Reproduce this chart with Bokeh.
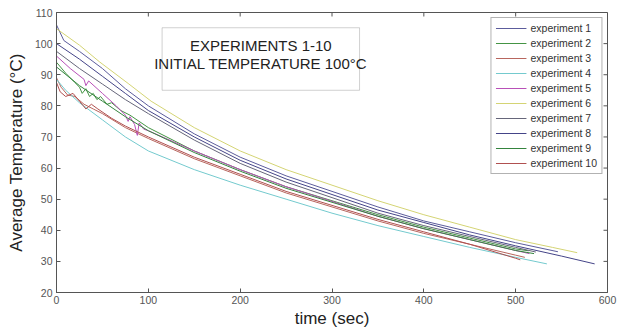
import math
from bokeh.plotting import figure
from bokeh.models import BoxAnnotation, Label, FixedTicker, Range1d, Legend
from bokeh.embed import file_html
from bokeh.resources import INLINE

# ---- data ----
t1 = [0, 8, 25, 50, 75, 100, 150, 200, 250, 300, 350, 400, 450, 500, 546]
T1 = [106, 101, 97.5, 92, 85.5, 80, 71, 63.5, 57.5, 52.5, 47.5, 43, 39.5, 36, 33.1]

t2 = [0, 10, 20, 25, 28, 32, 36, 40, 44, 48, 55, 60, 70, 80, 100, 150, 200, 250, 300, 350, 400, 450, 500, 514]
T2 = [94, 90.5, 87.5, 86, 84, 85.5, 83, 84, 82, 83, 80.5, 81, 78.5, 77, 73, 65.5, 59.5, 54, 49.5, 45, 41, 37.5, 34, 33.4]

t3 = [0, 5, 12, 20, 30, 40, 50, 75, 100, 150, 200, 250, 300, 350, 400, 450, 500, 510]
T3 = [89, 86, 83.5, 83, 80.5, 79, 77.5, 73, 69.5, 63, 57.5, 52, 47.5, 43, 39, 35.5, 32, 31.3]

t4 = [0, 10, 25, 50, 75, 100, 150, 200, 250, 300, 350, 400, 450, 500, 534]
T4 = [88.5, 85, 81, 75.5, 70, 65.5, 59.5, 54.5, 50, 45.5, 41.5, 38, 34.5, 31.3, 29.2]

t5 = [0, 15, 30, 32, 35, 50, 65, 75, 78, 80, 85, 88, 90, 95, 100, 150, 200, 250, 300, 350, 400, 450, 500, 515]
T5 = [96, 92, 88.5, 86.5, 88, 84, 80, 77, 75, 76.5, 74, 70.5, 74.5, 72.5, 72, 65.5, 59.5, 54, 49.3, 44.5, 40.5, 37, 33.5, 32.5]

t6 = [0, 25, 47, 78, 103, 150, 200, 250, 300, 350, 400, 450, 500, 540, 567]
T6 = [104.8, 99.5, 94.1, 87.2, 81.5, 73, 65.5, 59.5, 54.5, 49.5, 45, 41, 37, 34.5, 32.8]

t7 = [0, 25, 50, 75, 100, 150, 200, 250, 300, 350, 400, 450, 500, 522]
T7 = [97.5, 92, 87, 82, 77.5, 69, 61.5, 55.5, 50.5, 45.5, 41.5, 38, 34.5, 33]

t8 = [0, 25, 50, 75, 100, 150, 200, 250, 300, 350, 400, 450, 500, 550, 586]
T8 = [100, 95, 89.5, 84, 78.5, 70, 62.5, 56.5, 51.5, 46.5, 42.5, 38.5, 35, 31.7, 29.2]

t9 = [0, 25, 50, 75, 100, 150, 200, 250, 300, 350, 400, 450, 500, 520]
T9 = [92.5, 86.5, 81.5, 76.5, 72, 65, 59, 53.5, 49, 44.5, 40.5, 37, 33.5, 32.5]

t10 = [0, 4, 10, 18, 25, 32, 38, 45, 60, 75, 100, 150, 200, 250, 300, 350, 400, 450, 500, 505]
T10 = [87.5, 84.5, 83, 84, 81.5, 79, 80.5, 79, 76, 73.5, 70, 63.5, 58, 52.5, 48, 43.5, 39.5, 35.5, 31, 30.5]

labels = ["experiment %d" % i for i in range(1, 11)]
colors = ["#5c5c9c", "#449444", "#b8665e", "#74cace", "#b850b8",
          "#d4d474", "#66667a", "#444488", "#34843e", "#b05050"]
x_ticks = [0, 100, 200, 300, 400, 500, 600]
y_ticks = [20, 30, 40, 50, 60, 70, 80, 90, 100, 110]
title_lines = ["EXPERIMENTS 1-10", "INITIAL TEMPERATURE 100°C"]

series = [(t1, T1), (t2, T2), (t3, T3), (t4, T4), (t5, T5),
          (t6, T6), (t7, T7), (t8, T8), (t9, T9), (t10, T10)]

FONT = "Liberation Sans"
AXC = "#555555"

p = figure(width=621, height=330, output_backend="svg", toolbar_location=None,
           x_range=Range1d(x_ticks[0], x_ticks[-1]), y_range=Range1d(y_ticks[0], y_ticks[-1]),
           min_border_left=56, min_border_right=14, min_border_top=12, min_border_bottom=36)
p.background_fill_color = "white"
p.border_fill_color = "white"
p.outline_line_color = AXC
p.grid.visible = False

renderers = []
for (tt, TT), c in zip(series, colors):
    r = p.line(tt, TT, line_color=c, line_width=1)
    renderers.append(r)

# inward ticks on the top and right edges of the box
p.ray(x=x_ticks, y=[y_ticks[-1]] * len(x_ticks), length=4, length_units="screen",
      angle=-math.pi / 2, line_color=AXC, line_width=1)
p.ray(x=[x_ticks[-1]] * len(y_ticks), y=y_ticks, length=4, length_units="screen",
      angle=math.pi, line_color=AXC, line_width=1)

legend = Legend(items=[(lab, [r]) for lab, r in zip(labels, renderers)],
                location="top_right")
legend.label_text_font = FONT
legend.label_text_font_size = "10.5px"
legend.label_text_color = "#333333"
legend.border_line_color = "#666666"
legend.background_fill_alpha = 1
legend.glyph_width = 31
legend.glyph_height = 12
legend.label_height = 12
legend.label_standoff = 4
legend.spacing = 3
legend.padding = 4
legend.margin = 5
p.add_layout(legend, "center")

for ax in (p.xaxis[0], p.yaxis[0]):
    ax.major_tick_in = 4
    ax.major_tick_out = 0
    ax.minor_tick_line_color = None
    ax.axis_line_color = AXC
    ax.major_tick_line_color = AXC
    ax.major_label_text_font = FONT
    ax.major_label_text_color = AXC
    ax.major_label_text_font_size = "10.5px"
    ax.axis_label_text_font = FONT
    ax.axis_label_text_font_size = "17px"
    ax.axis_label_text_font_style = "normal"
    ax.axis_label_text_color = "#222222"

p.xaxis.ticker = FixedTicker(ticks=x_ticks)
p.yaxis.ticker = FixedTicker(ticks=y_ticks)
p.xaxis.major_label_standoff = 3
p.yaxis.major_label_standoff = 4
p.xaxis.axis_label = "time (sec)"
p.yaxis.axis_label = "Average Temperature (°C)"
p.xaxis.axis_label_standoff = 2
p.yaxis.axis_label_standoff = 6

# title box
box = BoxAnnotation(left=115, right=330, top=105.1, bottom=85.0,
                    fill_color="white", fill_alpha=1.0,
                    line_color="#666666", line_width=1)
p.add_layout(box)
for txt, yy in zip(title_lines, [99.5, 93.7]):
    p.add_layout(Label(x=222.5, y=yy, text=txt, text_align="center",
                       text_baseline="middle", text_font=FONT,
                       text_font_size="15px", text_color="#222222"))

open("out.html", "w").write(file_html(p, INLINE))
